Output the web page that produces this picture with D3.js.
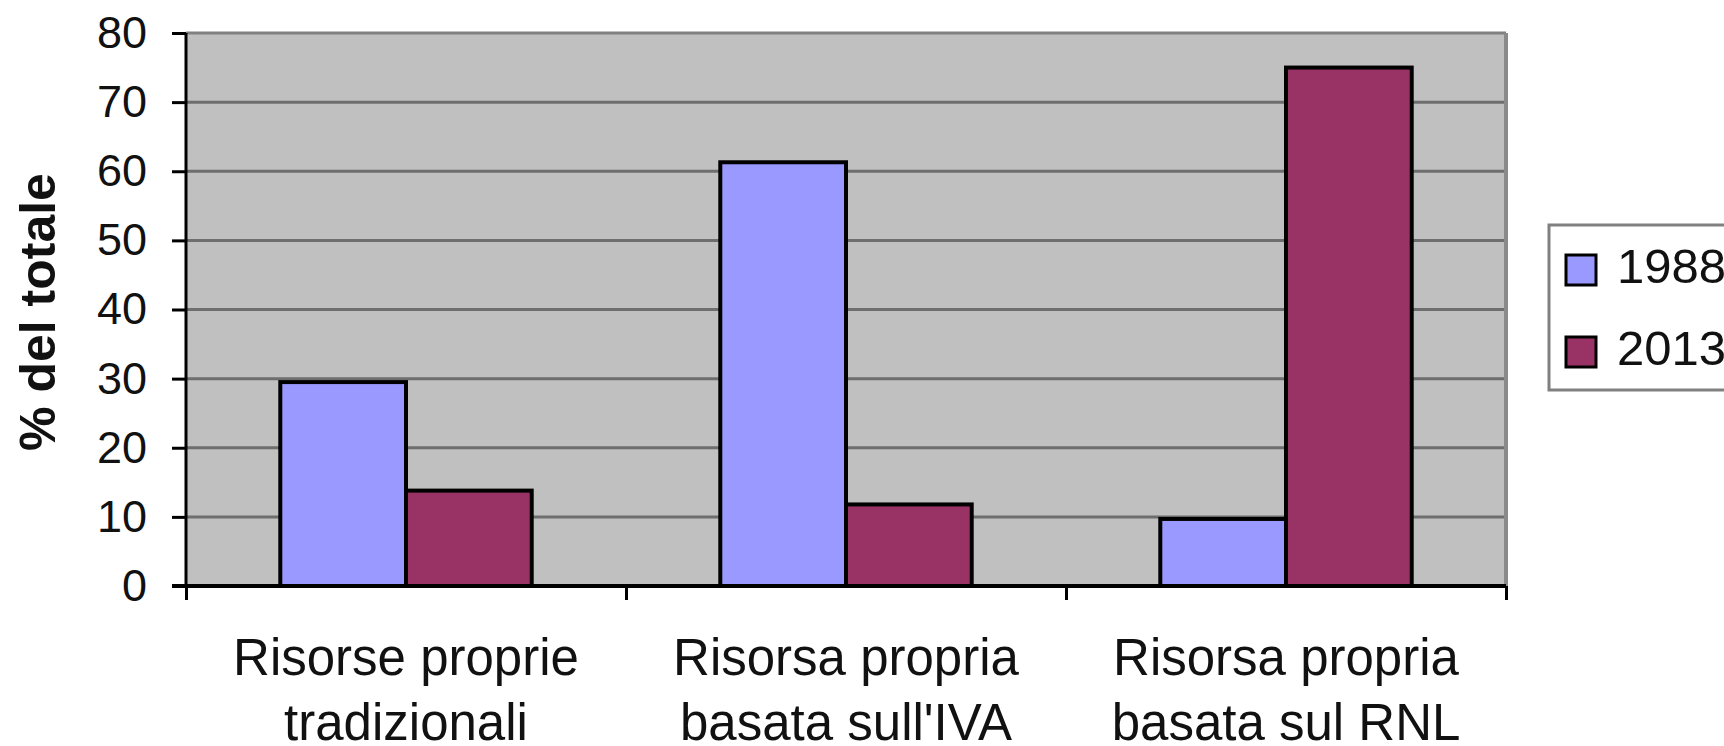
<!DOCTYPE html>
<html>
<head>
<meta charset="utf-8">
<script src="https://cdn.jsdelivr.net/npm/d3@7"></script>
<style>
  body { margin: 0; background: #fff; }
  svg { display: block; font-family: "Liberation Sans", Arial, sans-serif; }
  .axis path { display: none; }
</style>
</head>
<body>
<div id="chart"></div>
<script>
// ===== Data =====
const categories = ["trad", "iva", "rnl"];
const categoryLabels = [
    ["Risorse proprie", "tradizionali"],
    ["Risorsa propria", "basata sull'IVA"],
    ["Risorsa propria", "basata sul RNL"]
];
const seriesNames = ["1988", "2013"];
const values1988 = [29.5, 61.3, 9.7];
const values2013 = [13.8, 11.8, 75.0];
const yTicks = [0, 10, 20, 30, 40, 50, 60, 70, 80];
const yTitle = "% del totale";

const colors = {"1988": "#9999ff", "2013": "#993366"};

/* ===== Layout ===== */
const width = 1724, height = 746;
const plot = {left: 186, right: 1506, top: 33, bottom: 586};

const svg = d3.select("#chart")
              .append("svg")
              .attr("width", width)
              .attr("height", height);

const y = d3.scaleLinear()
            .domain([0, 80])
            .range([plot.bottom, plot.top]);

const x0 = d3.scaleBand()
             .domain(categories)
             .range([plot.left, plot.right])
             .padding(0);

// Excel-like gap width of 150% between groups
const x1 = d3.scaleBand()
             .domain(seriesNames)
             .range([0, x0.bandwidth()])
             .paddingInner(0)
             .paddingOuter(0.75);

// plot background
svg.append("rect")
   .attr("x", plot.left)
   .attr("y", plot.top)
   .attr("width", plot.right - plot.left)
   .attr("height", plot.bottom - plot.top)
   .attr("fill", "#c0c0c0");

// gridlines
svg.append("g")
   .selectAll("line")
   .data(yTicks.filter(d => d > 0))
   .join("line")
   .attr("x1", plot.left)
   .attr("x2", plot.right)
   .attr("y1", d => y(d))
   .attr("y2", d => y(d))
   .attr("stroke", d => d === 80 ? "#808080" : "#6e6e6e")
   .attr("stroke-width", 3);

// right border of plot area
svg.append("line")
   .attr("x1", plot.right).attr("x2", plot.right)
   .attr("y1", plot.top).attr("y2", plot.bottom)
   .attr("stroke", "#8a8a8a")
   .attr("stroke-width", 4);

// bars
const rows = categories.map((c, i) => ({cat: c, "1988": values1988[i], "2013": values2013[i]}));

svg.append("g")
   .selectAll("g")
   .data(rows)
   .join("g")
   .attr("transform", d => `translate(${x0(d.cat)},0)`)
   .selectAll("rect")
   .data(d => seriesNames.map(s => ({key: s, value: d[s]})))
   .join("rect")
   .attr("x", d => x1(d.key))
   .attr("y", d => y(d.value))
   .attr("width", x1.bandwidth())
   .attr("height", d => y(0) - y(d.value))
   .attr("fill", d => colors[d.key])
   .attr("stroke", "#000")
   .attr("stroke-width", 4);

// y axis
const yAxis = svg.append("g")
                 .classed("axis", true)
                 .attr("transform", `translate(${plot.left},0)`)
                 .call(d3.axisLeft(y).tickValues(yTicks).tickSize(14).tickPadding(25));
yAxis.selectAll("line").attr("stroke", "#000").attr("stroke-width", 3);
yAxis.selectAll("text").attr("font-size", 45).attr("fill", "#111").attr("font-family", "Liberation Sans");
svg.append("line")
   .attr("x1", plot.left).attr("x2", plot.left)
   .attr("y1", plot.top).attr("y2", plot.bottom)
   .attr("stroke", "#000").attr("stroke-width", 3);

// x axis: ticks between categories
const xb = d3.scaleLinear().domain([0, categories.length]).range([plot.left, plot.right]);
const xAxis = svg.append("g")
                 .classed("axis", true)
                 .attr("transform", `translate(0,${plot.bottom})`)
                 .call(d3.axisBottom(xb).ticks(categories.length).tickSize(14).tickFormat(() => ""));
xAxis.selectAll("line").attr("stroke", "#000").attr("stroke-width", 3);
svg.append("line")
   .attr("x1", plot.left - 14).attr("x2", plot.right)
   .attr("y1", plot.bottom).attr("y2", plot.bottom)
   .attr("stroke", "#000").attr("stroke-width", 4);

// category labels (two lines each)
const catText = svg.append("g")
                   .selectAll("text")
                   .data(categories)
                   .join("text")
                   .attr("x", d => x0(d) + x0.bandwidth() / 2)
                   .attr("y", 675)
                   .attr("text-anchor", "middle")
                   .attr("font-size", 51)
                   .attr("fill", "#111");
catText.selectAll("tspan")
       .data((d, i) => categoryLabels[i])
       .join("tspan")
       .attr("x", function() { return this.parentNode.getAttribute("x"); })
       .attr("dy", (d, i) => i === 0 ? 0 : 65)
       .text(d => d);

// y axis title
svg.append("text")
   .attr("transform", "translate(55,312) rotate(-90)")
   .attr("text-anchor", "middle")
   .attr("font-size", 50)
   .attr("font-weight", "bold")
   .attr("fill", "#111")
   .text(yTitle);

// legend
const legend = svg.append("g");
legend.append("rect")
      .attr("x", 1549).attr("y", 225)
      .attr("width", 200).attr("height", 165)
      .attr("fill", "#fff")
      .attr("stroke", "#808080")
      .attr("stroke-width", 3);
const items = legend.selectAll("g.item")
                    .data(seriesNames)
                    .join("g")
                    .classed("item", true)
                    .attr("transform", (d, i) => `translate(1566,${255 + i * 82})`);
items.append("rect")
     .attr("width", 30).attr("height", 30)
     .attr("fill", d => colors[d])
     .attr("stroke", "#000")
     .attr("stroke-width", 3);
items.append("text")
     .attr("x", 51)
     .attr("y", 28)
     .attr("font-size", 49)
     .attr("fill", "#111")
     .text(d => d);
</script>
</body>
</html>
